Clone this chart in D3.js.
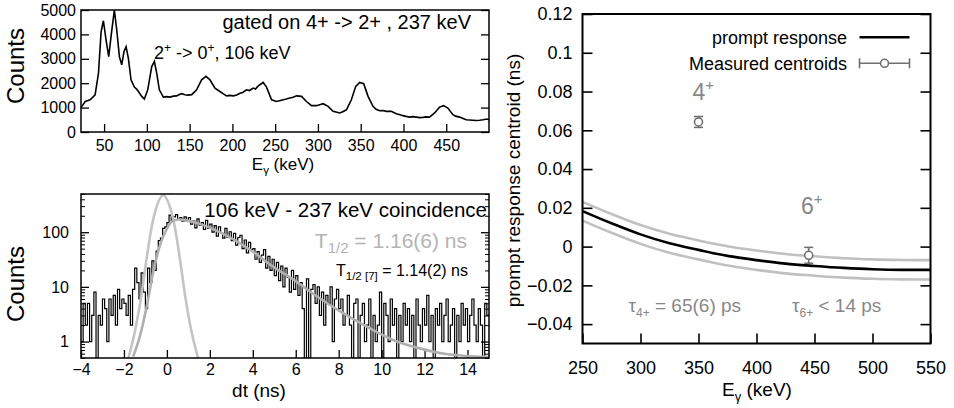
<!DOCTYPE html>
<html>
<head>
<meta charset="utf-8">
<script src="https://cdn.jsdelivr.net/npm/d3@7"></script>
<style>
  body { margin: 0; background: #fff; }
  svg text { font-family: "Liberation Sans", Arial, Helvetica, sans-serif; }
</style>
</head>
<body>
<div id="chart"></div>
<script>
// gamma spectrum gated on 237 keV (top left)
var specE = [23,24,28,33.6,39.5,43.4,46.5,49.2,52.3,55.4,58.6,62,64.8,67.9,70.6,73.3,75.7,78.4,81.5,85.4,
  88,90.1,94,97.1,101,105.7,108.8,111.5,114.6,119.3,123,127,131,134.8,138,140.7,144.6,148,152.4,158.2,
  164,169.1,173.8,179.6,185.4,189,193.2,197,201,205,208.8,212,216.5,220,224.3,227,230.2,236,239.9,245.8,
  251.6,255,259.4,263,267.2,271,275,280.8,286.6,292.5,298.3,302,306.1,311.9,317.7,321,325.5,329,333.3,339.1,
  344.2,348.8,353.5,358.6,364.4,368,372.2,376,380,385.8,391.6,395,399.4,403,407.2,411,415,419,422.8,426,
  430.5,436.4,442.2,446.9,451.9,457.8,461,465.6,469,473.3,477,481.1,485,488.9,493,497.5,500];
var specCounts = [1000,1050,1250,1320,1520,2400,4100,4560,3770,3090,4050,5000,4180,3090,2750,3300,3500,3020,2140,1840,
  1760,1660,1460,1350,1730,2680,2890,2410,1730,1430,1450,1430,1470,1480,1540,1570,1530,1510,1530,1730,
  2140,2280,2140,1800,1660,1570,1480,1500,1480,1520,1590,1620,1730,1700,1800,1760,1890,2030,1840,1320,
  1250,1280,1320,1350,1390,1420,1480,1460,1250,1080,1080,1120,1160,1050,845,820,780,830,910,1320,
  1870,2030,1980,1460,1050,930,870,880,845,845,750,720,670,640,610,630,610,590,600,620,
  610,780,1020,1080,980,710,650,610,560,500,490,480,470,480,500,530,500];
var specTicksX = [50,100,150,200,250,300,350,400,450];
var specTicksY = [0,1000,2000,3000,4000,5000];

// time difference histogram, 0.1 ns bins starting at -4 ns (bottom left)
var dtCounts = [
  1,5,2,5,1,3,8,0,3,2, 6,4,1,6,3,7,2,9,4,6,
  5,3,7,2,9,22,12,6,18,8, 4,22,12,30,20,45,70,78,118,125,
  150,205,165,190,210,172,185,160,190,158, 185,140,160,120,175,135,150,112,165,118,
  140,100,132,85,125,95,78,118,80,102, 70,95,58,80,88,50,72,42,65,48,
  50,32,44,28,38,48,22,36,20,32, 16,28,13,24,10,22,15,8,20,9,
  16,7,12,4,0,14,0,9,11,5, 10,3,8,2,7,5,10,1,6,9,
  4,6,2,3,7,2,0,5,6,0, 3,5,1,2,6,0,3,1,2,8,
  0,5,3,1,6,2,4,0,3,1, 5,2,4,1,3,0,6,2,1,4,
  2,7,1,3,0,4,2,5,1,3, 6,1,2,4,0,3,1,5,2,4,
  1,3,6,2,1,4,2,0,5,3];
var promptT = [-1.8,-1.49,-1.18,-0.94,-0.71,-0.48,-0.17,0.14,0.37,0.6,0.84,1.15,1.46];
var promptV = [0.49,1.53,7.3,34,124,290,473,290,124,34,7.3,1.5,0.49];
var fitT = [-1.57,-1.26,-0.94,-0.64,-0.33,-0.01,0.29,0.6,0.92,1.53,2.31,3.08,4.01,4.94,5.88,6.96,8.05,9.29,10.53,11.77,13.01,13.94,15];
var fitV = [0.53,1.24,4.4,18.3,56.8,114,163,171,163,142,107,75,44,23.5,13.7,6.8,3.6,1.89,1.07,0.75,0.59,0.545,0.52];
var dtTicksX = [-4,-2,0,2,4,6,8,10,12,14];

// prompt response centroid (right)
var respE = [250,275,300,325,350,375,400,425,450,475,500,525,550];
var respMid = [0.0183,0.0120,0.0063,0.0017,-0.0017,-0.0048,-0.0070,-0.0088,-0.0100,-0.0110,-0.0117,-0.0120,-0.0120];
var respUp = [0.0231,0.0168,0.0111,0.0066,0.0032,0.0002,-0.0020,-0.0038,-0.0050,-0.0060,-0.0066,-0.0069,-0.0070];
var respLow = [0.0134,0.0071,0.0014,-0.0032,-0.0066,-0.0098,-0.0120,-0.0138,-0.0150,-0.0160,-0.0166,-0.0169,-0.0170];
var levelE = [350,445];
var centroid = [0.0643,-0.0045];
var centroidErr = [0.0028,0.0041];
var respTicksX = [250,300,350,400,450,500,550];
var respTicksY = [-0.04,-0.02,0,0.02,0.04,0.06,0.08,0.1,0.12];

var svg = d3.select("#chart").append("svg").attr("width", 954).attr("height", 408);

function styleAxis(g, w) {
  g.select(".domain").remove();
  g.selectAll("line").attr("stroke", "#000").attr("stroke-width", w || 1.3);
  g.selectAll("text").attr("fill", "#000");
}

//---------- panel A : energy spectrum
var A = {left: 81, top: 10, w: 408, h: 122};
var gA = svg.append("g").attr("transform", "translate(" + A.left + "," + A.top + ")");
var xA = d3.scaleLinear().domain([23, 500]).range([0, A.w]);
var yA = d3.scaleLinear().domain([0, 5000]).range([A.h, 0]);

gA.append("g").attr("transform", "translate(0," + A.h + ")")
  .call(d3.axisBottom(xA).tickValues(specTicksX).tickSize(-8).tickPadding(8))
  .call(styleAxis).attr("font-size", 16);
gA.append("g")
  .call(d3.axisLeft(yA).tickValues(specTicksY).tickSize(-8).tickPadding(5).tickFormat(d3.format("d")))
  .call(styleAxis).attr("font-size", 16);
gA.append("g").attr("transform", "translate(" + A.w + ",0)")
  .call(d3.axisRight(yA).tickValues(specTicksY).tickSize(-8).tickFormat(""))
  .call(styleAxis);

gA.append("path")
  .datum(specE.map(function(e, i) { return [e, specCounts[i]]; }))
  .attr("fill", "none").attr("stroke", "#000").attr("stroke-width", 1.6)
  .attr("d", d3.line().x(function(d) { return xA(d[0]); }).y(function(d) { return yA(d[1]); }));

gA.append("rect").attr("width", A.w).attr("height", A.h)
  .attr("fill", "none").attr("stroke", "#000").attr("stroke-width", 1.5);

gA.append("text").attr("x", 390).attr("y", 19).attr("text-anchor", "end")
  .attr("font-size", 20).text("gated on 4+ -> 2+ , 237 keV");
var t2 = gA.append("text").attr("x", 73).attr("y", 48.5).attr("font-size", 18);
t2.append("tspan").text("2");
t2.append("tspan").attr("font-size", 12).attr("dy", -7).text("+");
t2.append("tspan").attr("dy", 7).text(" -> 0");
t2.append("tspan").attr("font-size", 12).attr("dy", -7).text("+");
t2.append("tspan").attr("dy", 7).text(", 106 keV");

var eA = svg.append("text").attr("x", 283).attr("y", 170).attr("text-anchor", "middle").attr("font-size", 17);
eA.append("tspan").text("E");
eA.append("tspan").attr("font-size", 11.5).attr("dy", 4).text("γ");
eA.append("tspan").attr("dy", -4).text(" (keV)");
svg.append("text").attr("transform", "translate(24,66) rotate(-90)").attr("text-anchor", "middle")
  .attr("font-size", 24).text("Counts");

//---------- panel B : time spectrum
var B = {left: 81, top: 194, w: 408, h: 164};
var gB = svg.append("g").attr("transform", "translate(" + B.left + "," + B.top + ")");
var xB = d3.scaleLinear().domain([-4, 15]).range([0, B.w]);
var yB = d3.scaleLog().domain([0.5, 500]).range([B.h, 0]);
var majorB = [1, 10, 100];
var minorB = yB.ticks().filter(function(v) { return majorB.indexOf(v) < 0; });

gB.append("g").attr("transform", "translate(0," + B.h + ")")
  .call(d3.axisBottom(xB).tickValues(dtTicksX).tickSize(-8).tickPadding(6))
  .call(styleAxis).attr("font-size", 16);
gB.append("g")
  .call(d3.axisLeft(yB).tickValues(majorB).tickSize(-8).tickPadding(12).tickFormat(d3.format("d")))
  .call(styleAxis).attr("font-size", 16);
gB.append("g").call(d3.axisLeft(yB).tickValues(minorB).tickSize(-4).tickFormat(""))
  .call(styleAxis, 1);
gB.append("g").attr("transform", "translate(" + B.w + ",0)")
  .call(d3.axisRight(yB).tickValues(majorB).tickSize(-8).tickFormat(""))
  .call(styleAxis);
gB.append("g").attr("transform", "translate(" + B.w + ",0)")
  .call(d3.axisRight(yB).tickValues(minorB).tickSize(-4).tickFormat(""))
  .call(styleAxis, 1);

gB.append("clipPath").attr("id", "clipB").append("rect").attr("width", B.w).attr("height", B.h);

// histogram as steps, empty bins drop to the bottom
var histPts = dtCounts.map(function(c, i) { return [-4 + i * 0.1, Math.max(c, 0.5)]; });
histPts.push([15, histPts[histPts.length - 1][1]]);
gB.append("path").datum(histPts).attr("clip-path", "url(#clipB)")
  .attr("fill", "none").attr("stroke", "#000").attr("stroke-width", 1.2)
  .attr("d", d3.line().curve(d3.curveStepAfter)
    .x(function(d) { return xB(d[0]); }).y(function(d) { return yB(d[1]); }));

var lineB = d3.line().curve(d3.curveMonotoneX)
  .x(function(d) { return xB(d[0]); }).y(function(d) { return yB(d[1]); });
gB.append("path").datum(promptT.map(function(t, i) { return [t, promptV[i]]; }))
  .attr("clip-path", "url(#clipB)")
  .attr("fill", "none").attr("stroke", "#c4c4c4").attr("stroke-width", 2.6).attr("d", lineB);
gB.append("path").datum(fitT.map(function(t, i) { return [t, fitV[i]]; }))
  .attr("clip-path", "url(#clipB)")
  .attr("fill", "none").attr("stroke", "#b0b0b0").attr("stroke-width", 2.6).attr("d", lineB);

gB.append("rect").attr("width", B.w).attr("height", B.h)
  .attr("fill", "none").attr("stroke", "#000").attr("stroke-width", 1.5);

gB.append("text").attr("x", 406).attr("y", 23).attr("text-anchor", "end")
  .attr("font-size", 20.5).text("106 keV - 237 keV coincidence");
var tg = gB.append("text").attr("x", 386).attr("y", 54).attr("text-anchor", "end")
  .attr("font-size", 21).attr("fill", "#b4b4b4");
tg.append("tspan").text("T");
tg.append("tspan").attr("font-size", 15).attr("dy", 5).text("1/2");
tg.append("tspan").attr("dy", -5).text(" = 1.16(6) ns");
var tb = gB.append("text").attr("x", 387).attr("y", 82).attr("text-anchor", "end").attr("font-size", 16);
tb.append("tspan").text("T");
tb.append("tspan").attr("font-size", 11.5).attr("dy", 4).text("1/2 [7]");
tb.append("tspan").attr("dy", -4).text(" = 1.14(2) ns");

svg.append("text").attr("x", 259).attr("y", 397).attr("text-anchor", "middle")
  .attr("font-size", 19).text("dt (ns)");
svg.append("text").attr("transform", "translate(24,284) rotate(-90)").attr("text-anchor", "middle")
  .attr("font-size", 24).text("Counts");

//---------- panel C : prompt response centroid
var C = {left: 582.5, top: 14, w: 348, h: 329.5};
var gC = svg.append("g").attr("transform", "translate(" + C.left + "," + C.top + ")");
var xC = d3.scaleLinear().domain([250, 550]).range([0, C.w]);
var yC = d3.scaleLinear().domain([-0.05, 0.12]).range([C.h, 0]);

gC.append("g").attr("transform", "translate(0," + C.h + ")")
  .call(d3.axisBottom(xC).tickValues(respTicksX).tickSize(-10).tickPadding(18))
  .call(styleAxis, 1.6).attr("font-size", 18);
gC.append("g")
  .call(d3.axisLeft(yC).tickValues(respTicksY).tickSize(-10).tickPadding(10).tickFormat(function(d) { return d3.format("")(+d.toFixed(2)); }))
  .call(styleAxis, 1.6).attr("font-size", 18);
gC.append("g").attr("transform", "translate(" + C.w + ",0)")
  .call(d3.axisRight(yC).tickValues(respTicksY).tickSize(-10).tickFormat(""))
  .call(styleAxis, 1.6);

var lineC = d3.line().curve(d3.curveMonotoneX)
  .x(function(d) { return xC(d[0]); }).y(function(d) { return yC(d[1]); });
[respUp, respLow].forEach(function(arr) {
  gC.append("path").datum(respE.map(function(e, i) { return [e, arr[i]]; }))
    .attr("fill", "none").attr("stroke", "#c0c0c0").attr("stroke-width", 2.6).attr("d", lineC);
});
gC.append("path").datum(respE.map(function(e, i) { return [e, respMid[i]]; }))
  .attr("fill", "none").attr("stroke", "#000").attr("stroke-width", 2.6).attr("d", lineC);

// measured centroids with error bars
var pts = gC.selectAll(".pt").data(levelE).enter().append("g")
  .attr("stroke", "#707070").attr("stroke-width", 1.6).attr("fill", "none");
pts.append("line")
  .attr("x1", function(d) { return xC(d); }).attr("x2", function(d) { return xC(d); })
  .attr("y1", function(d, i) { return yC(centroid[i] - centroidErr[i]); })
  .attr("y2", function(d, i) { return yC(centroid[i] + centroidErr[i]); });
[-1, 1].forEach(function(s) {
  pts.append("line")
    .attr("x1", function(d) { return xC(d) - 4.5; }).attr("x2", function(d) { return xC(d) + 4.5; })
    .attr("y1", function(d, i) { return yC(centroid[i] + s * centroidErr[i]); })
    .attr("y2", function(d, i) { return yC(centroid[i] + s * centroidErr[i]); });
});
pts.append("circle").attr("r", 4).attr("fill", "#fff")
  .attr("cx", function(d) { return xC(d); })
  .attr("cy", function(d, i) { return yC(centroid[i]); });

gC.append("rect").attr("width", C.w).attr("height", C.h)
  .attr("fill", "none").attr("stroke", "#000").attr("stroke-width", 2);

// legend
var lg = gC.append("g");
lg.append("text").attr("x", 264.5).attr("y", 29.5).attr("text-anchor", "end").attr("font-size", 18).text("prompt response");
lg.append("line").attr("x1", 277).attr("x2", 327).attr("y1", 23.3).attr("y2", 23.3)
  .attr("stroke", "#000").attr("stroke-width", 2.6);
lg.append("text").attr("x", 264.5).attr("y", 55.5).attr("text-anchor", "end").attr("font-size", 18).text("Measured centroids");
var le = lg.append("g").attr("stroke", "#707070").attr("stroke-width", 1.6);
le.append("line").attr("x1", 277).attr("x2", 327).attr("y1", 49.3).attr("y2", 49.3);
le.append("line").attr("x1", 277).attr("x2", 277).attr("y1", 44.3).attr("y2", 54.3);
le.append("line").attr("x1", 327).attr("x2", 327).attr("y1", 44.3).attr("y2", 54.3);
le.append("circle").attr("cx", 302).attr("cy", 49.3).attr("r", 4).attr("fill", "#fff");

// level labels
function levelLabel(x, y, n) {
  var t = gC.append("text").attr("x", x).attr("y", y).attr("font-size", 23).attr("fill", "#888");
  t.append("tspan").text(n);
  t.append("tspan").attr("font-size", 15).attr("dy", -10).text("+");
}
levelLabel(110, 86, "4");
levelLabel(218.5, 199.5, "6");
var tau4 = gC.append("text").attr("x", 46).attr("y", 297.5).attr("font-size", 19).attr("fill", "#888");
tau4.append("tspan").text("τ");
tau4.append("tspan").attr("font-size", 12).attr("dy", 5).text("4+");
tau4.append("tspan").attr("dy", -5).text(" = 65(6) ps");
var tau6 = gC.append("text").attr("x", 209.5).attr("y", 297.5).attr("font-size", 19).attr("fill", "#888");
tau6.append("tspan").text("τ");
tau6.append("tspan").attr("font-size", 12).attr("dy", 5).text("6+");
tau6.append("tspan").attr("dy", -5).text(" < 14 ps");

var eC = svg.append("text").attr("x", 757).attr("y", 396).attr("text-anchor", "middle").attr("font-size", 19);
eC.append("tspan").text("E");
eC.append("tspan").attr("font-size", 13).attr("dy", 5).text("γ");
eC.append("tspan").attr("dy", -5).text(" (keV)");
svg.append("text").attr("transform", "translate(520,180.5) rotate(-90)").attr("text-anchor", "middle")
  .attr("font-size", 19).text("prompt response centroid (ns)");
</script>
</body>
</html>
